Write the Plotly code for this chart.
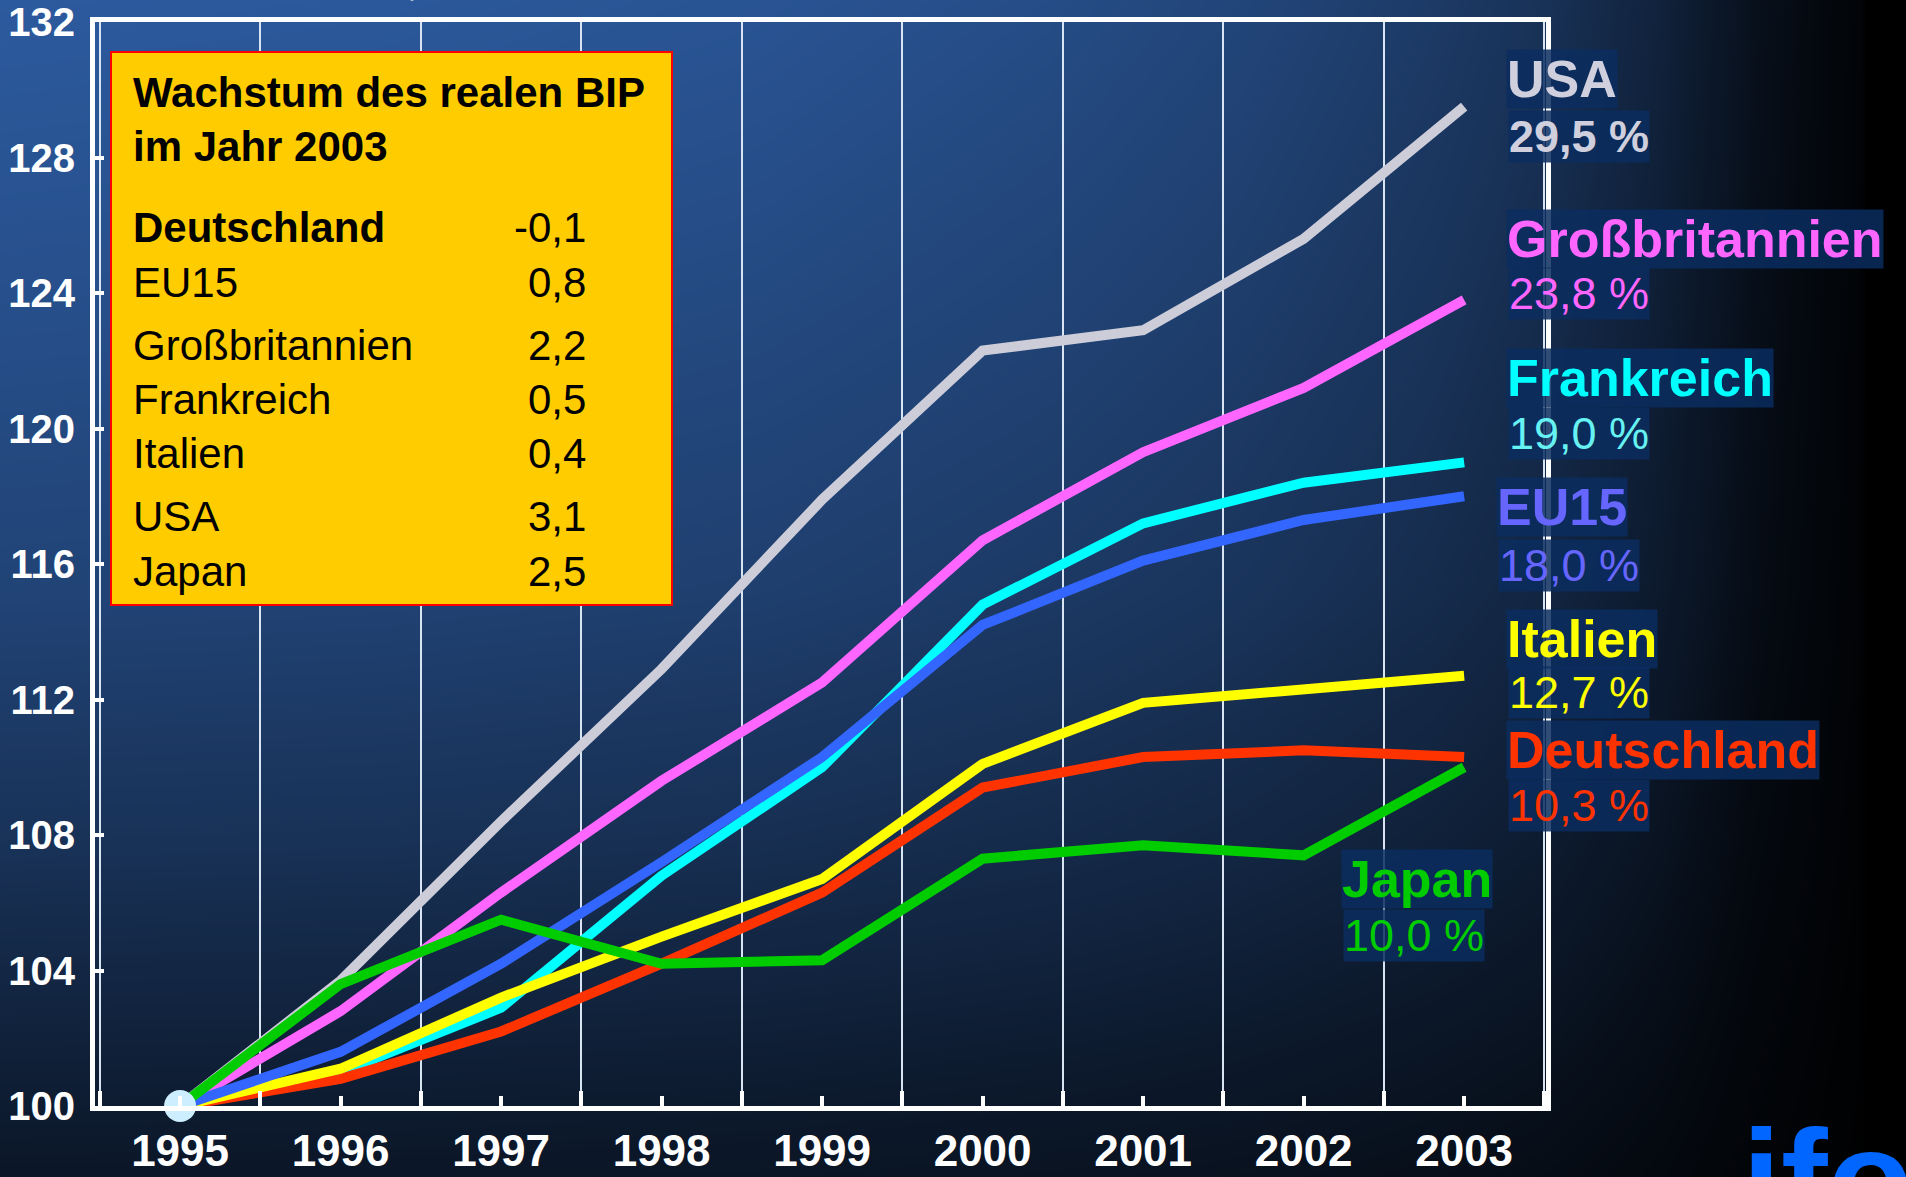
import plotly.graph_objects as go

W, H = 1906, 1177

years = [1995, 1996, 1997, 1998, 1999, 2000, 2001, 2002, 2003]
usa = [100, 103.7, 108.4, 112.9, 117.9, 122.3, 122.9, 125.6, 129.5]
gb = [100, 102.8, 106.3, 109.6, 112.5, 116.7, 119.3, 121.2, 123.8]
fr = [100, 101.0, 102.9, 106.8, 110.0, 114.8, 117.2, 118.4, 119.0]
eu15 = [100, 101.6, 104.2, 107.2, 110.3, 114.2, 116.1, 117.3, 118.0]
italien = [100, 101.1, 103.2, 105.0, 106.7, 110.1, 111.9, 112.3, 112.7]
deutschland = [100, 100.8, 102.2, 104.2, 106.3, 109.4, 110.3, 110.5, 110.3]
japan = [100, 103.6, 105.5, 104.2, 104.3, 107.3, 107.7, 107.4, 110.0]

# Wachstum 2003 (Tabelle)
table_names = ["Deutschland", "EU15", "Großbritannien", "Frankreich", "Italien", "USA", "Japan"]
table_values = ["-0,1", "0,8", "2,2", "0,5", "0,4", "3,1", "2,5"]

FONT = "Liberation Sans, Arial, sans-serif"


def px(x):
    return x / W


def py(y):
    return 1 - y / H


fig = go.Figure()

# Hintergrundverlauf (nur Gestaltung)
bx = [0, 0.2, 0.4, 0.55, 0.65, 0.75, 0.81, 0.87, 0.92, 0.96, 0.975, 0.98, 1]
bh = [1.0, 0.98, 0.93, 0.85, 0.77, 0.65, 0.55, 0.38, 0.18, 0.08, 0.05, 0.0, 0.0]
by = [1.0, 0.75, 0.5, 0.28, 0.1, 0.0]
bv = [1.0, 0.88, 0.75, 0.55, 0.35, 0.25]
bz = [[v * h for h in bh] for v in bv]
fig.add_trace(go.Heatmap(x=bx, y=by, z=bz, zmin=0, zmax=1, zsmooth="best",
                         colorscale=[[0, "#000000"], [1, "#2C5A9E"]],
                         showscale=False, hoverinfo="skip", xaxis="x", yaxis="y"))

series = [
    ("USA", usa, "#CDCDDA"),
    ("Großbritannien", gb, "#FF66FF"),
    ("Frankreich", fr, "#00FFFF"),
    ("Deutschland", deutschland, "#FF3300"),
    ("Italien", italien, "#FFFF00"),
    ("EU15", eu15, "#3366FF"),
    ("Japan", japan, "#00CC00"),
]
for name, vals, col in series:
    fig.add_trace(go.Scatter(x=years, y=vals, mode="lines", name=name,
                             line=dict(color=col, width=10),
                             xaxis="x2", yaxis="y2", showlegend=False))

fig.add_trace(go.Scatter(x=[years[0]], y=[usa[0]], mode="markers",
                         marker=dict(color="#CCEEFF", size=32),
                         xaxis="x2", yaxis="y2", showlegend=False, cliponaxis=False))

# gelbe Tabelle
fig.add_shape(type="rect", xref="paper", yref="paper",
              x0=px(111), x1=px(672), y0=py(605), y1=py(52),
              fillcolor="#FFCC00", line=dict(color="#FF0000", width=2))

ann = []
ann.append(dict(x=px(131), y=py(92), text="<b>Wachstum des realen BIP</b>",
                xanchor="left", yanchor="middle", font=dict(size=42, color="black", family=FONT)))
ann.append(dict(x=px(131), y=py(146), text="<b>im Jahr 2003</b>",
                xanchor="left", yanchor="middle", font=dict(size=42, color="black", family=FONT)))
row_y = [227, 282, 345, 399, 453, 517, 571]
for i, (n, v) in enumerate(zip(table_names, table_values)):
    t = f"<b>{n}</b>" if i == 0 else n
    ann.append(dict(x=px(131), y=py(row_y[i]), text=t, xanchor="left", yanchor="middle",
                    font=dict(size=42, color="black", family=FONT)))
    ann.append(dict(x=px(588), y=py(row_y[i]), text=v, xanchor="right", yanchor="middle",
                    font=dict(size=42, color="black", family=FONT)))

# Beschriftungen rechts
labels = [
    ("USA", "29,5 %", "#CFCFDE", "#CFCFDE", 1506, 79, 136, True),
    ("Großbritannien", "23,8 %", "#FF66FF", "#FF66FF", 1506, 239, 293, False),
    ("Frankreich", "19,0 %", "#00FFFF", "#66F2F2", 1506, 378, 433, False),
    ("EU15", "18,0 %", "#6666FF", "#6666FF", 1496, 507, 565, False),
    ("Italien", "12,7 %", "#FFFF00", "#FFFF00", 1506, 639, 692, False),
    ("Deutschland", "10,3 %", "#FF3300", "#FF3300", 1506, 750, 805, False),
    ("Japan", "10,0 %", "#00CC00", "#00CC00", 1341, 879, 935, False),
]
for name, pct, c1, c2, lx, y1, y2, bold_pct in labels:
    ann.append(dict(x=px(lx), y=py(y1), text=f"<b>{name}</b>", xanchor="left", yanchor="middle",
                    font=dict(size=52, color=c1, family=FONT),
                    bgcolor="rgba(11,45,95,0.85)", borderpad=0))
    ptxt = f"<b>{pct}</b>" if bold_pct else pct
    ann.append(dict(x=px(lx + 2), y=py(y2), text=ptxt, xanchor="left", yanchor="middle",
                    font=dict(size=45, color=c2, family=FONT),
                    bgcolor="rgba(11,45,95,0.85)", borderpad=0))

# abgeschnittener Titel oben
ann.append(dict(x=px(190), y=py(6), text="Reales BIP, Index 1995 = 100", xanchor="left",
                yanchor="bottom", font=dict(size=44, color="white", family=FONT)))
# Logo unten rechts
ann.append(dict(x=px(1740), y=py(1098), text="<b>ifo</b>", xanchor="left", yanchor="top",
                font=dict(size=140, color="#0066FF", family=FONT)))

for a in ann:
    a.update(xref="paper", yref="paper", showarrow=False)

fig.update_layout(
    width=W, height=H,
    margin=dict(l=0, r=0, t=0, b=0, autoexpand=False),
    paper_bgcolor="#000000",
    plot_bgcolor="rgba(0,0,0,0)",
    annotations=ann,
    xaxis=dict(domain=[0, 1], range=[0, 1], visible=False, fixedrange=True),
    yaxis=dict(domain=[0, 1], range=[0, 1], visible=False, fixedrange=True),
    xaxis2=dict(domain=[px(95), px(1546)], anchor="y2", range=[1994.47, 2003.51],
                tickmode="linear", tick0=1995, dtick=1,
                ticks="inside", ticklen=10, tickwidth=4, tickcolor="white",
                showgrid=False, zeroline=False,
                minor=dict(tick0=1995.5, dtick=1, ticks="inside", ticklen=15, tickwidth=4,
                           tickcolor="white", showgrid=True, gridcolor="#D8E4F2", gridwidth=2),
                showline=True, linecolor="white", linewidth=5, mirror=True,
                tickfont=dict(size=44, color="white", family=FONT, weight="bold"),
                ticklabelstandoff=2),
    yaxis2=dict(domain=[py(1106), py(22)], anchor="x2", range=[100, 132],
                tickmode="linear", tick0=100, dtick=4,
                ticks="inside", ticklen=9, tickwidth=4, tickcolor="white",
                showgrid=False, zeroline=False,
                showline=True, linecolor="white", linewidth=5, mirror=True,
                tickfont=dict(size=40, color="white", family=FONT, weight="bold"),
                ticklabelstandoff=7),
)

fig.write_html("out.html", config={"displayModeBar": False},
               post_script="document.body.style.margin='0';document.body.style.overflow='hidden';")
